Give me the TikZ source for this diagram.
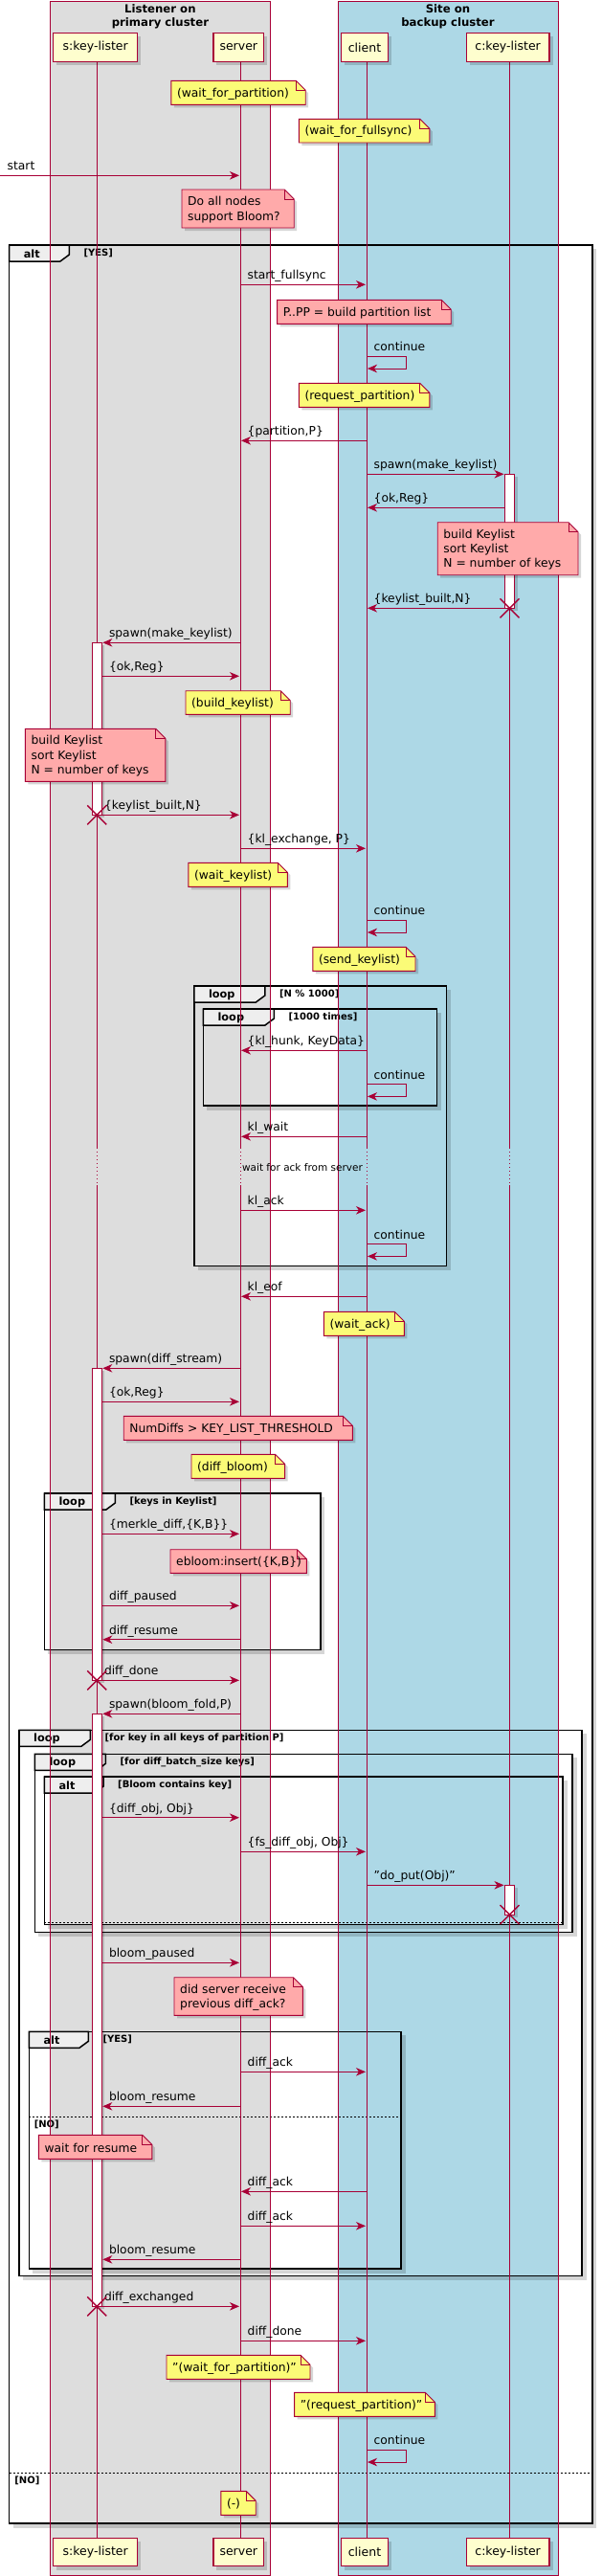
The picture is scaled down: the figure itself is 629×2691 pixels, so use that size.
\documentclass[tikz,border=0pt]{standalone}
\usepackage{fontspec}
\setmainfont{DejaVu Sans}
\usetikzlibrary{arrows.meta,calc}
\definecolor{crim}{HTML}{A80036}
\definecolor{partf}{HTML}{FEFECE}
\definecolor{noteY}{HTML}{FBFB77}
\definecolor{noteP}{HTML}{FFAAAA}
\definecolor{grayb}{HTML}{DDDDDD}
\definecolor{blueb}{HTML}{ADD8E6}
\definecolor{tabf}{HTML}{EEEEEE}
\newcommand\myfmsg{\fontsize{12.3}{15.3}\selectfont}
\newcommand\myfpart{\fontsize{12.5}{15}\selectfont}
\newcommand\myftitle{\fontsize{11.7}{14.7}\selectfont\bfseries}
\newcommand\myflab{\fontsize{11.3}{13}\selectfont\bfseries}
\newcommand\myfcond{\fontsize{10}{12}\selectfont\bfseries}
\newcommand\myfdelay{\fontsize{10.5}{12}\selectfont}
\newcounter{mc}
\tikzset{
 msgline/.style={draw=crim, line width=0.9pt, -{Stealth[length=10pt,width=8.5pt,inset=3pt]}},
 lbl/.style={anchor=base west, inner sep=0pt, font=\myfmsg},
 notetxt/.style={anchor=west, inner sep=0pt, align=left, font=\myfmsg},
 part/.style={draw=crim, fill=partf, line width=1.3pt, font=\myfpart, inner sep=0pt, minimum height=29.6pt},
 shad/.style={fill=black, fill opacity=0.16, draw=none},
 frm/.style={draw=black, line width=1.5pt},
 tabs/.style={draw=black, fill=tabf, line width=1.5pt},
 flbl/.style={anchor=west, inner sep=0pt, font=\myflab},
 fcond/.style={anchor=west, inner sep=0pt, font=\myfcond},
 elsel/.style={draw=black, line width=0.9pt, dash pattern=on 2pt off 2pt},
 life/.style={draw=crim, line width=0.9pt},
 lifedot/.style={draw=crim, line width=0.9pt, dash pattern=on 1pt off 3pt},
 act/.style={draw=crim, fill=white, line width=0.9pt},
 xmark/.style={draw=crim, line width=1.4pt},
 clus/.style={draw=crim, line width=0.9pt},
}
% note: name, fill, x1, y1, x2, y2, text
\newcommand\mynote[7]{%
 \fill[shad] (#3+3,#4+3) -- (#5+3-10,#4+3) -- (#5+3,#4+13) -- (#5+3,#6+3) -- (#3+3,#6+3) -- cycle;
 \filldraw[fill=#2, draw=crim, line width=0.9pt] (#3,#4) -- (#5-10,#4) -- (#5,#4+10) -- (#5,#6) -- (#3,#6) -- cycle;
 \draw[crim, line width=0.9pt] (#5-10,#4) -- (#5-10,#4+10) -- (#5,#4+10);
 \node[notetxt] (#1) at (#3+6,{(#4+#6)/2+1}) {#7};
}
% frame: name, x1, y1, x2, y2, tabR, label, cond
\newcommand\myframe[8]{%
 \fill[shad] (#2+4,#5+0.75) rectangle (#4+4.5,#5+4.5);
 \fill[shad] (#4+0.75,#3+4) rectangle (#4+4.5,#5+0.75);
 \draw[frm] (#2,#3) rectangle (#4,#5);
 \filldraw[tabs] (#2,#3) -- (#6,#3) -- (#6,#3+10) -- (#6-9.5,#3+17) -- (#2,#3+17) -- cycle;
 \node[flbl] (#1) at (#2+15,#3+9) {#7};
 \node[fcond] (#1c) at (#6+15,#3+8.5) {#8};
}
% rightward message: from, fromoff, to, tooff, y, label
\newcommand\msgr[6]{%
 \stepcounter{mc}%
 \draw[msgline] ($(#1)+(#2,#5)$) -- ($(#3)+(#4,#5)$);
 \node[lbl] (m\themc) at ($(#1)+(#2+7.5,#5-5.5)$) {#6};
}
% leftward message: from, fromoff, to, tooff, y, label
\newcommand\msgl[6]{%
 \stepcounter{mc}%
 \draw[msgline] ($(#1)+(#2,#5)$) -- ($(#3)+(#4,#5)$);
 \node[lbl] (m\themc) at ($(#3)+(#4+6.5,#5-5.5)$) {#6};
}
% self message: lifeline, ytop
\newcommand\selfm[2]{%
 \stepcounter{mc}%
 \draw[msgline] ($(#1)+(0,#2)$) -- ++(41,0) -- ++(0,12.7) -- ($(#1)+(1,#2+12.7)$);
 \node[lbl] (m\themc) at ($(#1)+(7.5,#2-5.5)$) {continue};
}
\newcommand\xm[2]{%
 \draw[xmark] ($(#1)+(-10,#2-10)$) -- ($(#1)+(10,#2+10)$) ($(#1)+(-10,#2+10)$) -- ($(#1)+(10,#2-10)$);
}
\newcommand\actbox[3]{%
 \fill[shad] ($(#1)+(-2,#2+3)$) rectangle ($(#1)+(8,#3+3)$);
 \filldraw[act] ($(#1)+(-5,#2)$) rectangle ($(#1)+(5,#3)$);
}
\begin{document}
\begin{tikzpicture}[x=1pt,y=-1pt]
\useasboundingbox (0,0) rectangle (629,2691);
\fill[white] (0,0) rectangle (629,2691);
\coordinate (ext) at (0,0);
\coordinate (Lsk) at (101.3,0);
\coordinate (Lsrv) at (251,0);
\coordinate (Lcl) at (383,0);
\coordinate (Lck) at (532.5,0);
% cluster boxes
\fill[grayb] (52.4,1.3) rectangle (282.4,2690);
\fill[blueb] (353,1.3) rectangle (583,2690);
\node[font=\myftitle, align=center, inner sep=0pt] (t1) at (167.4,17.4) {Listener on\\primary cluster};
\node[font=\myftitle, align=center, inner sep=0pt] (t2) at (468,17.4) {Site on\\backup cluster};
% frames
\myframe{fA}{9.6}{256}{618.8}{2636}{72.4}{alt}{[YES]}
\myframe{fLa}{202.8}{1030}{466.4}{1322.3}{276.8}{loop}{[N \% 1000]}
\myframe{fLb}{212.4}{1054}{456.4}{1155}{286.4}{loop}{[1000 times]}
\myframe{fLc}{46.4}{1560}{334.8}{1723.3}{120.4}{loop}{[keys in Keylist]}
\myframe{fLd}{20}{1807.3}{608}{2377.3}{94.4}{loop}{[for key in all keys of partition P]}
\myframe{fLe}{36.4}{1832.3}{598}{2018.3}{110.4}{loop}{[for diff\_batch\_size keys]}
\myframe{fAb}{46.4}{1856}{588}{2010.7}{108}{alt}{[Bloom contains key]}
\myframe{fAc}{30.4}{2122.3}{419.2}{2370}{92.4}{alt}{[YES]}
\draw[elsel] (9.6,2583.3) -- (618.8,2583.3);
\node[fcond] (no1) at (15.2,2591) {[NO]};
\draw[elsel] (30.4,2211) -- (419.2,2211);
\node[fcond] (no2) at (35.6,2219.8) {[NO]};
\draw[elsel] (46.4,2008.6) -- (588,2008.6);
% cluster borders
\draw[clus] (52.4,1.3) rectangle (282.4,2690);
\draw[clus] (353,1.3) rectangle (583,2690);
% lifelines
\foreach \L in {Lsk,Lsrv,Lcl,Lck}{
 \draw[life] ($(\L)+(0,64.3)$) -- ($(\L)+(0,1199)$);
 \draw[lifedot] ($(\L)+(0,1199)$) -- ($(\L)+(0,1238.3)$);
 \draw[life] ($(\L)+(0,1238.3)$) -- ($(\L)+(0,2651)$);
}
\node[font=\myfdelay, inner sep=0pt] (delay) at (316,1219.3) {wait for ack from server};
% activations
\actbox{Lck}{495.3}{635.3}
\actbox{Lsk}{671.3}{851.3}
\actbox{Lsk}{1429.3}{1755.3}
\actbox{Lsk}{1790.3}{2409.3}
\actbox{Lck}{1969.3}{2000}
% notes
\mynote{n1}{noteY}{178.8}{84.3}{319.2}{109.3}{(wait\_for\_partition)}
\mynote{n2}{noteY}{312.4}{124.3}{448.8}{149}{(wait\_for\_fullsync)}
\mynote{n3}{noteP}{190}{198}{307.2}{238}{Do all nodes\\support Bloom?}
\mynote{n4}{noteP}{289.6}{313.3}{471.2}{338.3}{P..PP = build partition list}
\mynote{n5}{noteY}{312.4}{400.3}{448.8}{425.3}{(request\_partition)}
\mynote{n6}{noteP}{457.2}{545.7}{604}{600.7}{build Keylist\\sort Keylist\\N = number of keys}
\mynote{n7}{noteY}{194}{721.7}{303.2}{746.3}{(build\_keylist)}
\mynote{n8}{noteP}{26.4}{761.3}{172.8}{816.3}{build Keylist\\sort Keylist\\N = number of keys}
\mynote{n9}{noteY}{196.8}{901.3}{300.4}{926.3}{(wait\_keylist)}
\mynote{n10}{noteY}{326.8}{989.3}{434}{1014.3}{(send\_keylist)}
\mynote{n11}{noteY}{338.4}{1370.3}{422.4}{1395.3}{(wait\_ack)}
\mynote{n12}{noteP}{129.2}{1479.3}{368.4}{1504.3}{NumDiffs > KEY\_LIST\_THRESHOLD}
\mynote{n13}{noteY}{200}{1519.3}{297.6}{1544.3}{(diff\_bloom)}
\mynote{n14}{noteP}{178}{1618.7}{320.4}{1643.3}{ebloom:insert(\{K,B\})}
\mynote{n15}{noteP}{182}{2065.7}{316.4}{2105.3}{did server receive\\previous diff\_ack?}
\mynote{n16}{noteP}{40.4}{2230.3}{158.8}{2255.3}{wait for resume}
\mynote{n17}{noteY}{174}{2460.3}{324}{2485.3}{"(wait\_for\_partition)"}
\mynote{n18}{noteY}{307.6}{2499.3}{454.4}{2524.3}{"(request\_partition)"}
\mynote{n19}{noteY}{230.8}{2602.3}{267.2}{2627.3}{(-)}
% messages
\msgr{ext}{0}{Lsrv}{-1}{183.3}{start}
\msgr{Lsrv}{0}{Lcl}{-1}{297.3}{start\_fullsync}
\selfm{Lcl}{372.3}
\msgl{Lcl}{0}{Lsrv}{1}{460.3}{\{partition,P\}}
\msgr{Lcl}{0}{Lck}{-6}{495.3}{spawn(make\_keylist)}
\msgl{Lck}{-5}{Lcl}{1}{530.3}{\{ok,Reg\}}
\msgl{Lck}{0}{Lcl}{1}{635.3}{\{keylist\_built,N\}}
\xm{Lck}{635.3}
\msgl{Lsrv}{0}{Lsk}{6}{671.3}{spawn(make\_keylist)}
\msgr{Lsk}{5}{Lsrv}{-1}{706.3}{\{ok,Reg\}}
\msgr{Lsk}{0}{Lsrv}{-1}{851.3}{\{keylist\_built,N\}}
\xm{Lsk}{851.3}
\msgr{Lsrv}{0}{Lcl}{-1}{886.3}{\{kl\_exchange, P\}}
\selfm{Lcl}{961.3}
\msgl{Lcl}{0}{Lsrv}{1}{1097.3}{\{kl\_hunk, KeyData\}}
\selfm{Lcl}{1132.7}
\msgl{Lcl}{0}{Lsrv}{1}{1187.3}{kl\_wait}
\msgr{Lsrv}{0}{Lcl}{-1}{1264.3}{kl\_ack}
\selfm{Lcl}{1299.7}
\msgl{Lcl}{0}{Lsrv}{1}{1354.3}{kl\_eof}
\msgl{Lsrv}{0}{Lsk}{6}{1429.3}{spawn(diff\_stream)}
\msgr{Lsk}{5}{Lsrv}{-1}{1464.3}{\{ok,Reg\}}
\msgr{Lsk}{5}{Lsrv}{-1}{1602.3}{\{merkle\_diff,\{K,B\}\}}
\msgr{Lsk}{5}{Lsrv}{-1}{1677.3}{diff\_paused}
\msgl{Lsrv}{0}{Lsk}{6}{1712.7}{diff\_resume}
\msgr{Lsk}{0}{Lsrv}{-1}{1755.3}{diff\_done}
\xm{Lsk}{1755.3}
\msgl{Lsrv}{0}{Lsk}{6}{1790.3}{spawn(bloom\_fold,P)}
\msgr{Lsk}{5}{Lsrv}{-1}{1898.7}{\{diff\_obj, Obj\}}
\msgr{Lsrv}{0}{Lcl}{-1}{1934.3}{\{fs\_diff\_obj, Obj\}}
\msgr{Lcl}{0}{Lck}{-6}{1969.3}{"do\_put(Obj)"}
\xm{Lck}{2000}
\msgr{Lsk}{5}{Lsrv}{-1}{2050.3}{bloom\_paused}
\msgr{Lsrv}{0}{Lcl}{-1}{2164.3}{diff\_ack}
\msgl{Lsrv}{0}{Lsk}{6}{2200.3}{bloom\_resume}
\msgl{Lcl}{0}{Lsrv}{1}{2289.3}{diff\_ack}
\msgr{Lsrv}{0}{Lcl}{-1}{2325.3}{diff\_ack}
\msgl{Lsrv}{0}{Lsk}{6}{2360.3}{bloom\_resume}
\msgr{Lsk}{0}{Lsrv}{-1}{2409.3}{diff\_exchanged}
\xm{Lsk}{2409.3}
\msgr{Lsrv}{0}{Lcl}{-1}{2445.3}{diff\_done}
\selfm{Lcl}{2559.3}
% participants
\foreach \nm/\cx/\w/\txt in {sk/99.7/88/s:key-lister, srv/249.3/52.7/server, cl/381/49.2/client, ck/530.6/86.8/c:key-lister}{
 \fill[shad] (\cx-\w/2+3.5,52.5) rectangle (\cx+\w/2+3.5,67.8);
 \fill[shad] (\cx+\w/2,38) rectangle (\cx+\w/2+3.5,52.5);
 \node[part, minimum width=\w pt] (\nm) at (\cx,49.5) {\txt};
 \fill[shad] (\cx-\w/2+3.5,2669) rectangle (\cx+\w/2+3.5,2684.5);
 \fill[shad] (\cx+\w/2,2654.5) rectangle (\cx+\w/2+3.5,2669);
 \node[part, minimum width=\w pt] (\nm b) at (\cx,2666) {\txt};
}
\end{tikzpicture}
\end{document}
